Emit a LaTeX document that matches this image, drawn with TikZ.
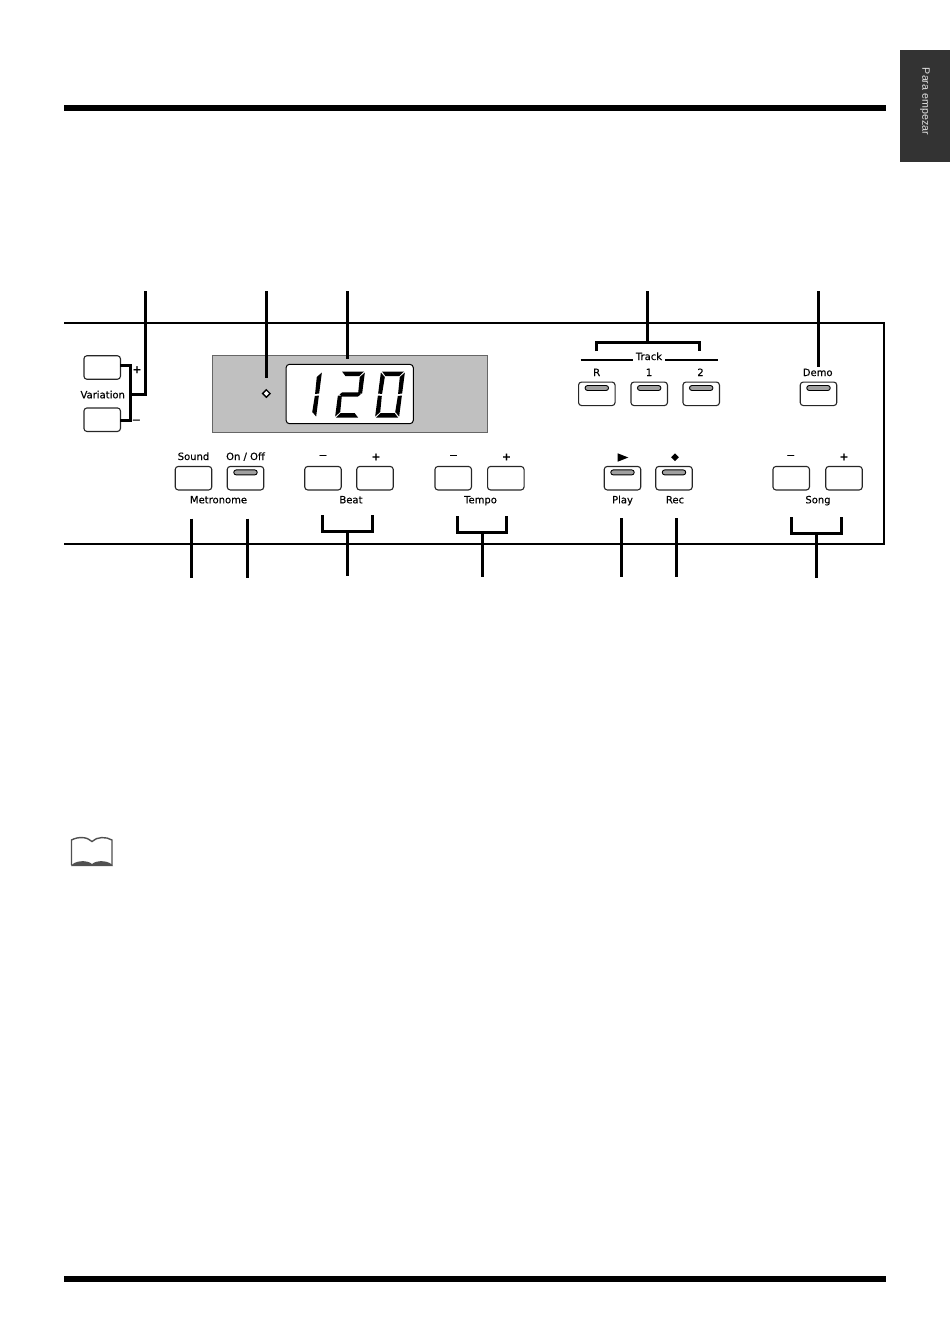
\documentclass[tikz,border=0pt]{standalone}
\usepackage{fontspec}
\setmainfont{DejaVu Sans}[FakeBold=0.35]
\newfontfamily\tabfont{Liberation Sans}
\usetikzlibrary{shapes.geometric}

\definecolor{tabgray}{HTML}{333333}
\definecolor{lcdgray}{HTML}{C0C0C0}
\definecolor{ledgray}{HTML}{A0A0A0}
\definecolor{bookgray}{HTML}{505050}

\tikzset{
  panelbtn/.style={draw=black!85,line width=1.1pt,rounded corners=3pt,minimum width=36.5pt,minimum height=23.5pt,inner sep=0pt,outer sep=0pt},
  ledbar/.style={draw=black,fill=ledgray,line width=0.9pt,rounded corners=2.5pt,minimum width=23.5pt,minimum height=5pt,inner sep=0pt},
  caption/.style={anchor=base,inner sep=0pt,font=\fontsize{10}{12}\selectfont},
  signlab/.style={inner sep=0pt,font=\fontsize{11}{12}\selectfont},
  leader/.style={line width=3pt},
  bracket/.style={line width=3pt,line join=miter},
}

% Segments of the display digits
\newcommand{\sega}{\fill (1,0) -- (23,0) -- (19,4.5) -- (5,4.5) -- cycle;}
\newcommand{\segb}{\fill (24,1) -- (24,22) -- (20,22.5) -- (19.5,5.5) -- cycle;}
\newcommand{\segc}{\fill (24,24) -- (24,45) -- (19.5,40.5) -- (20,24.5) -- cycle;}
\newcommand{\segd}{\fill (23,46) -- (1,46) -- (5,41.5) -- (19,41.5) -- cycle;}
\newcommand{\sege}{\fill (0,45) -- (0,24) -- (4,24.5) -- (4.5,40.5) -- cycle;}
\newcommand{\segf}{\fill (0,1) -- (4.5,5.5) -- (4,22.5) -- (0,22) -- cycle;}
\newcommand{\segg}{\fill (4,20.8) -- (20,20.8) -- (22.5,23) -- (20,25.2) -- (4,25.2) -- (1.5,23) -- cycle;}

\begin{document}
\begin{tikzpicture}[x=1pt,y=-1pt]
\useasboundingbox (0,0) rectangle (950,1342);

% Page bars and side tab
\fill (64,105) rectangle (886,111);
\fill (64,1276) rectangle (886,1282);
\node [fill=tabgray,minimum width=50.3pt,minimum height=112pt,inner sep=0pt,outer sep=0pt] (sidetab) at (924.85,106) {};
\node [rotate=-90,text=black!12,inner sep=0pt,font=\tabfont\fontsize{10.7}{12}\selectfont] (tablab) at (sidetab.center) [xshift=-4.5pt] {Para empezar};

% Panel outline
\draw [line width=2pt,line join=miter] (64,322.7) -- (883.7,322.7) -- (883.7,543.7) -- (64,543.7);

% Display
\node [draw=black!60,fill=lcdgray,line width=1pt,minimum width=275pt,minimum height=77pt,inner sep=0pt] (lcdback) at (349.8,394.2) {};
\node [draw=black,fill=white,line width=1pt,rounded corners=3.5pt,minimum width=127.3pt,minimum height=59.4pt,inner sep=0pt] (lcdwin) at (349.7,394) {};
\foreach \xx/\seglist in {298/{b,c},341/{a,b,g,e,d},381/{a,b,c,d,e,f}} {
  \begin{scope}[shift={(\xx,371.5)},xslant=0.13]
    \foreach \s in \seglist { \csname seg\s\endcsname }
  \end{scope}
}
\node [diamond,draw=black,fill=white,line width=1.4pt,minimum size=8pt,inner sep=0pt] (lcddot) at (266.3,393.5) {};

% Buttons
\foreach \nm/\xx/\yy in {
  varplus/102.2/367.5,
  varminus/102.2/419.7,
  sound/193.5/478.2,
  onoff/245.5/478.2,
  beatminus/323/478.2,
  beatplus/375/478.2,
  tempominus/453.2/478.2,
  tempoplus/505.8/478.2,
  play/622.5/478.2,
  rec/674/478.2,
  songminus/791.2/478.2,
  songplus/844/478.2,
  trackr/596.8/393.8,
  trackone/649.2/393.8,
  tracktwo/701.2/393.8,
  demo/818.5/393.8} {
  \node [panelbtn] (\nm) at (\xx,\yy) {};
}
\foreach \nm in {onoff,play,rec,trackr,trackone,tracktwo,demo} {
  \node [ledbar] (\nm led) at ([yshift=5.8pt]\nm.center) {};
}

% Captions on their baselines
\foreach \nm/\xx/\yy/\lab in {
  varlab/102.7/398.3/Variation,
  soundlab/193.5/460/Sound,
  onofflab/245.5/460/{On / Off},
  metrolab/218.5/503.3/Metronome,
  beatlab/351/503.3/Beat,
  tempolab/480.5/503.3/Tempo,
  playlab/622.5/503.3/Play,
  reclab/675/503.3/Rec,
  songlab/818/503.3/Song,
  tracklab/649/360/Track,
  rlab/596.7/376/R,
  onelab/649/376/1,
  twolab/700.5/376/2,
  demolab/817.7/376/Demo} {
  \node [caption] (\nm) at (\xx,\yy) {\lab};
}

% Plus and minus signs
\foreach \nm/\xx/\yy/\lab in {
  vp/137/369.7/{\bfseries +},
  vm/136.3/421.7/−,
  bm/323/457/−,
  bp/376/457/{\bfseries +},
  tm/453.5/457/−,
  tp/506.5/457/{\bfseries +},
  sm/790.7/457/−,
  sp/844/457/{\bfseries +}} {
  \node [signlab] (\nm) at (\xx,\yy) {\lab};
}

% Play and record marks
\fill (617.7,453.3) -- (628.3,457.5) -- (617.7,461.7) -- cycle;
\node [diamond,fill=black,minimum size=8pt,inner sep=0pt] (recmark) at (675,457.2) {};

% Rules beside Track
\coordinate (trackla) at (580.7,360);
\coordinate (tracklb) at (633.3,360);
\coordinate (trackra) at (665,360);
\coordinate (trackrb) at (718.3,360);
\draw [line width=1.8pt] (trackla) -- (tracklb);
\draw [line width=1.8pt] (trackra) -- (trackrb);

% Straight leaders
\foreach \nm/\xx/\ya/\yb in {
  lcddotline/266.3/291/377.7,
  lcdline/347.3/291/359.3,
  tracktop/647.3/291/342,
  demoline/818.3/291/367,
  soundline/191.3/518.7/577.7,
  onoffline/247.3/518.7/577.7,
  beatline/347.3/531.7/575.5,
  tempoline/482.3/532.7/577,
  playline/621.3/518/577,
  recline/676.3/518/577,
  songline/816.3/533.7/577.5} {
  \coordinate (\nm a) at (\xx,\ya);
  \coordinate (\nm b) at (\xx,\yb);
  \draw [leader] (\nm a) -- (\nm b);
}

% Square brackets
\foreach \nm/\xa/\xb/\ya/\yb in {
  trackbr/596.3/699/351/342,
  beatbr/322.3/372.7/515.3/531.7,
  tempobr/457.3/506.7/516/532.7,
  songbr/791.3/841.7/517/533.7} {
  \coordinate (\nm l) at (\xa,\ya);
  \coordinate (\nm r) at (\xb,\ya);
  \draw [bracket] (\nm l) -- (\xa,\yb) -- (\xb,\yb) -- (\nm r);
}

% Variation bracket
\coordinate (varjoin) at (130,394.7);
\coordinate (vartop) at (145.3,291);
\draw [bracket] ([yshift=2.3pt]varplus.east) -| (varjoin) |- ([yshift=-0.8pt]varminus.east);
\draw [bracket] (vartop) |- (varjoin);

% Book icon
\draw [draw=bookgray,line width=1.4pt,fill=white] (71.5,865) -- (71.5,840) .. controls (78,836.5) and (87,836.5) .. (92,841.5) .. controls (97,836.5) and (106,836.5) .. (112,840) -- (112,865);
\fill [bookgray] (71,866) .. controls (74,860.5) and (87,859.5) .. (92,864) .. controls (97,859.5) and (110,860.5) .. (113,866) -- cycle;

\end{tikzpicture}
\end{document}
